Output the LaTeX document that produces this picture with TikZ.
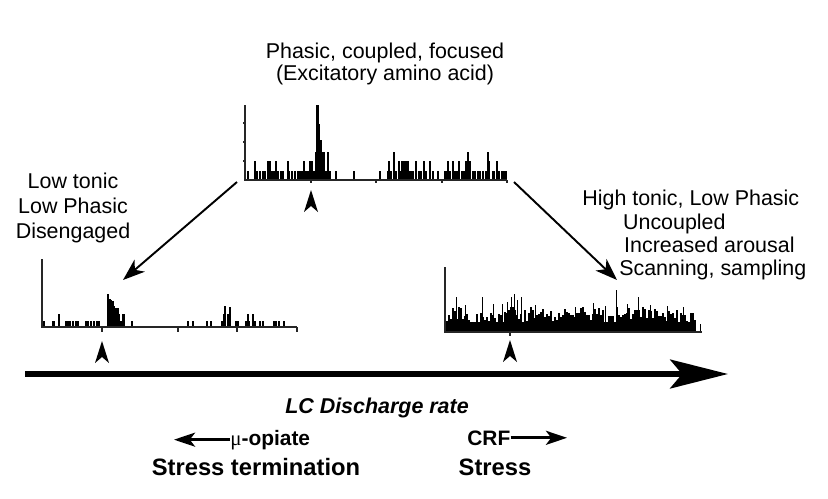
\documentclass[tikz,border=0pt]{standalone}
\usepackage{fontspec}
\setmainfont{Liberation Sans}
\newfontfamily\symfont{Liberation Serif}
\usetikzlibrary{arrows.meta, positioning}

\begin{document}
\begin{tikzpicture}[
    x=0.02cm, y=-0.02cm,
    lbl/.style={font=\fontsize{12.2}{12.5}\selectfont, inner sep=0pt, align=center},
    boldlbl/.style={font=\fontsize{11.9}{13}\selectfont\bfseries, inner sep=0pt},
    biglbl/.style={font=\fontsize{13.5}{15}\selectfont\bfseries, inner sep=0pt},
    axisline/.style={line width=0.6pt, draw=black!85},
    bar/.style={fill=black},
    marker/.style={fill=black},
    rate/.style={line width=3.4pt, -{Stealth[length=32.9pt, width=16.4pt, inset=6.8pt]}},
    shiftarr/.style={line width=1.1pt, -{Stealth[length=12.5pt, width=9pt, inset=3.6pt]}},
    drugarr/.style={line width=1.5pt, -{Stealth[length=12pt, width=8pt, inset=3pt]}}
]
\useasboundingbox (0,0) rectangle (828,498);

%% labels of the three firing modes
\node[lbl, anchor=north] (phasic) at (385,43) {Phasic, coupled, focused\\(Excitatory amino acid)};
\node[lbl, anchor=north, font=\fontsize{12.2}{14.2}\selectfont] (low) at (73,173) {Low tonic\\Low Phasic\\Disengaged};
\node[lbl, anchor=north west, align=left, font=\fontsize{12.2}{13.2}\selectfont] (high) at (582,190)
    {High tonic, Low Phasic\\\hspace*{23.2pt}Uncoupled\\\hspace*{23.8pt}Increased arousal\\\hspace*{21pt}Scanning, sampling};

%% top histogram (phasic)
\coordinate (topH) at (245,180);
\begin{scope}[shift={(topH)}]
\foreach \bx/\bh in {1.7/9, 9/19, 11/9, 14.3/9, 16.7/9, 19.3/9, 22.3/19, 24.3/19, 25.7/9, 27.7/9,
    30/19, 31.7/9, 35/9, 37.3/9, 41.7/19, 43.3/9, 46/9, 49/9, 51.7/9, 54/9, 56/9, 58.3/19, 60/9,
    62.3/9, 64/19, 65.7/19, 68.3/9, 69.7/28, 71/75, 72.3/75, 73.3/56, 74.7/40, 75.9/28, 77/19,
    78.3/28, 80/9, 82/28, 83.5/9, 90/9, 107.7/9, 134.3/9, 141.7/9, 143.3/19, 145/9, 147.7/28,
    150/9, 152.7/19, 154.3/9, 156/19, 157.7/19, 159/19, 160.7/19, 162.3/19, 164/9, 165.7/9,
    167.3/9, 170/19, 173.3/9, 175/9, 177.7/19, 180/9, 184/19, 186.7/9, 191.7/9, 199/9, 201/9,
    202.3/19, 204.3/9, 206.7/19, 209/9, 211/9, 213.3/19, 215.7/9, 217.7/9, 220/19, 221.7/28,
    224.3/19, 226.7/9, 229.3/9, 231.7/9, 234.3/9, 236.7/9, 240/9, 241.7/28, 243.3/19, 246.7/9,
    248.3/9, 251/19, 253.3/9, 255.7/9, 258.3/9, 260.3/9}
  \fill[bar] (\bx,0) rectangle ++(2.1,-\bh);
\draw[axisline] (0,-75) -- (0,0) -- (262,0);
\foreach \t in {19,38,57} \draw[axisline] (0,-\t) -- ++(-2,0);
\foreach \t in {66,131,197,262} \draw[axisline] (\t,0) -- ++(0,3);
\end{scope}

%% left histogram (low tonic)
\coordinate (leftH) at (42,327);
\begin{scope}[shift={(leftH)}]
\foreach \bx/\bh in {1.3/6, 9.7/6, 11.3/6, 16.3/13, 23/6, 25.3/6, 27.3/6, 29.7/6, 33/6, 34.7/6,
    43/6, 45.3/6, 48/6, 51.3/6, 54/6, 56.3/6, 65.3/33, 66.7/28, 68/27, 69.7/26, 71.3/21, 73/19,
    74.7/19, 76.3/13, 78/6, 79.7/13, 81.3/13, 88.7/6, 145.3/6, 149.7/6, 164/6, 168/6, 178.7/6,
    180.7/13, 182/21, 184.7/13, 186.3/13, 187.3/20, 193/6, 194.7/6, 203/6, 204.7/13, 206.3/6,
    209.7/13, 212/6, 217.3/6, 219.7/6, 230.7/6, 233/6, 236.3/6, 241.3/6}
  \fill[bar] (\bx,0) rectangle ++(1.9,-\bh);
\draw[axisline] (0,-68) -- (0,0) -- (255,0);
\foreach \t in {60,136,195,255} \draw[axisline] (\t,0) -- ++(0,5);
\end{scope}

%% right histogram (high tonic)
\coordinate (rightH) at (445,332);
\begin{scope}[shift={(rightH)}]
\pgfmathsetseed{1234}
\fill[bar] (1,0) rectangle (251,-10);
\foreach \i in {0,...,124} {
  \pgfmathsetmacro{\bh}{9+16*rnd}
  \fill[bar] (1+\i*2,0) rectangle ++(1.8,-\bh);
}
\foreach \bx/\bh in {10.7/35, 20/27, 36.7/35, 48/28, 56.7/28, 62/30, 66/35, 69/38, 72/32, 76/35,
    90/27, 130/25, 148/29, 160/26, 170.7/42, 182/28, 193/35, 205/27, 222/26, 238/25, 255/8}
  \fill[bar] (\bx,0) rectangle ++(1.4,-\bh);
\draw[axisline] (0,-65) -- (0,0) -- (257,0);
\draw[axisline] (65,0) -- ++(0,4);
\end{scope}

%% arrow markers under the histograms
\coordinate (markTop) at (311,190);
\coordinate (markLeft) at (102,341);
\coordinate (markRight) at (510,340);
\foreach \m in {markTop,markLeft,markRight}
  \fill[marker] (\m) -- ++(-7,22) -- ++(7,-6) -- ++(7,6) -- cycle;

%% shifts between modes
\coordinate (topL) at (237,182);
\coordinate (topR) at (514,182);
\coordinate (lowTip) at (123,280);
\coordinate (highTip) at (617,280);
\draw[shiftarr] (topL) -- (lowTip);
\draw[shiftarr] (topR) -- (highTip);

%% discharge rate axis
\coordinate (axL) at (25,374);
\coordinate (axR) at (728,374);
\draw[rate] (axL) -- (axR);
\node[boldlbl, font=\fontsize{12.2}{13}\selectfont\bfseries\itshape, anchor=base] (lcrate) at (377,413) {LC Discharge rate};

%% modulators
\node[boldlbl, anchor=base west] (opiate) at (230,445) {{\symfont\mdseries μ}-opiate};
\node[boldlbl, anchor=base west] (crf) at (467,445) {CRF};
\coordinate (opiEnd) at (174,438);
\coordinate (crfEnd) at (567,438);
\draw[drugarr] (opiate.west) -- (opiate.west -| opiEnd);
\draw[drugarr] (crf.east) -- (crf.east -| crfEnd);
\node[biglbl, anchor=base] (term) at (256,475) {Stress termination};
\node[biglbl, anchor=base] (stress) at (495,475) {Stress};

\end{tikzpicture}
\end{document}
